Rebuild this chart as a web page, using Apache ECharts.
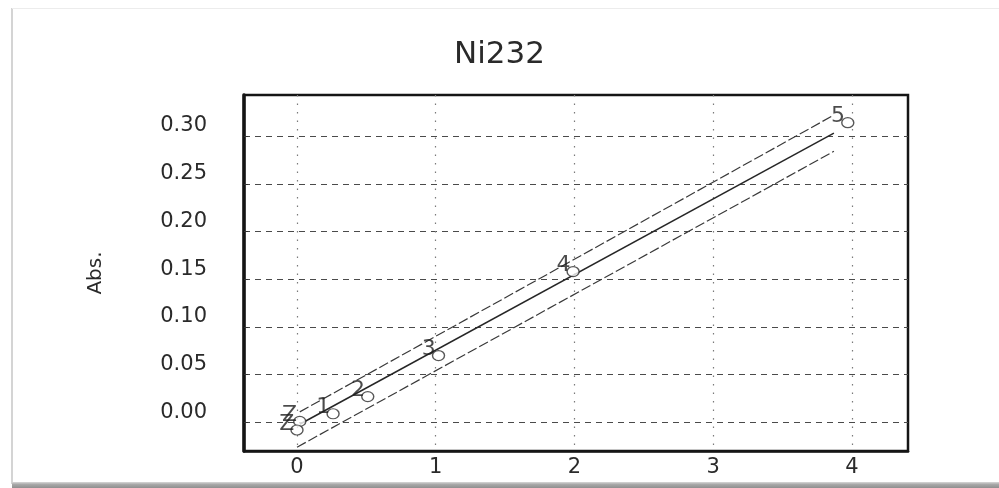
<!DOCTYPE html>
<html>
<head>
<meta charset="utf-8">
<title>Ni232</title>
<script src="https://cdn.jsdelivr.net/npm/echarts@6/dist/echarts.min.js"></script>
<style>
  html, body { margin: 0; padding: 0; background: #ffffff; }
  #chart { width: 999px; height: 488px; }
</style>
</head>
<body>
<div id="chart"></div>
<script>
// Calibration standards: concentration (x) and absorbance (y)
const standardLabels = ['Z', 'Z', '1', '2', '3', '4', '5'];
const standardConc   = [0.02, 0.00, 0.26, 0.51, 1.02, 1.99, 3.97];
const standardAbs    = [0.001, -0.008, 0.009, 0.027, 0.070, 0.158, 0.314];

// Fitted calibration line and its upper / lower limit lines (end points)
const fitConc   = [0.02, 3.87];
const fitAbs    = [-0.002, 0.303];
const upperConc = [0.02, 3.87];
const upperAbs  = [0.011, 0.322];
const lowerConc = [0.00, 3.87];
const lowerAbs  = [-0.026, 0.284];

// Tick values
const xTicks = [0, 1, 2, 3, 4];
const yTicks = [0.00, 0.05, 0.10, 0.15, 0.20, 0.25, 0.30];

const zip = (xs, ys) => xs.map((x, i) => [x, ys[i]]);

const FONT = 'DejaVu Sans';
const INK = '#2a2a2a';

const chart = echarts.init(document.getElementById('chart'), null, { renderer: 'canvas' });

chart.setOption({
  backgroundColor: '#ffffff',
  animation: false,
  title: {
    text: 'Ni232',
    left: 'center',
    top: 34,
    textStyle: { fontFamily: FONT, fontSize: 31, fontWeight: 'normal', color: INK }
  },
  // paper edge around the figure
  graphic: [
    { type: 'rect', silent: true, shape: { x: 11, y: 8, width: 2, height: 476 }, style: { fill: '#d4d4d4' } },
    { type: 'rect', silent: true, shape: { x: 12, y: 8, width: 987, height: 1 }, style: { fill: '#ececec' } },
    { type: 'rect', silent: true, shape: { x: 12, y: 482, width: 987, height: 6 },
      style: { fill: new echarts.graphic.LinearGradient(0, 0, 0, 1, [
        { offset: 0, color: '#d8d8d8' }, { offset: 0.4, color: '#a8a8a8' }, { offset: 1, color: '#8f8f8f' }
      ]) } }
  ],
  grid: {
    left: 244, top: 95, width: 664, height: 356,
    show: true, borderColor: '#151515', borderWidth: 2.5, backgroundColor: 'transparent'
  },
  xAxis: {
    type: 'value',
    min: -0.382, max: 4.404,
    axisLine: { show: true, onZero: false, lineStyle: { color: '#151515', width: 2.5 } },
    axisTick: { show: false, customValues: xTicks },
    axisLabel: {
      customValues: xTicks, margin: 6,
      fontFamily: FONT, fontSize: 21, color: INK
    },
    splitLine: { show: true, lineStyle: { color: '#7a7a7a', width: 1.2, type: [1.5, 7] } }
  },
  yAxis: {
    type: 'value',
    name: 'Abs.',
    nameLocation: 'middle',
    nameGap: 138,
    nameRotate: 90,
    nameTextStyle: { fontFamily: FONT, fontSize: 20, color: INK },
    min: -0.03, max: 0.343,
    axisLine: { show: true, onZero: false, lineStyle: { color: '#151515', width: 3.5 } },
    axisTick: { show: true, inside: true, length: 4, customValues: yTicks, lineStyle: { color: '#333', width: 1 } },
    axisLabel: {
      customValues: yTicks, margin: 37,
      verticalAlign: 'bottom', lineHeight: 20,
      fontFamily: FONT, fontSize: 21, color: INK,
      formatter: v => v.toFixed(2)
    },
    splitLine: { show: true, lineStyle: { color: '#4a4a4a', width: 1.2, type: [6, 5] } }
  },
  series: [
    {
      name: 'upper', type: 'line', data: zip(upperConc, upperAbs),
      symbol: 'none', silent: true,
      lineStyle: { color: '#3a3a3a', width: 1.2, type: [10, 3] }
    },
    {
      name: 'fit', type: 'line', data: zip(fitConc, fitAbs),
      symbol: 'none', silent: true,
      lineStyle: { color: '#262626', width: 1.5 }
    },
    {
      name: 'lower', type: 'line', data: zip(lowerConc, lowerAbs),
      symbol: 'none', silent: true,
      lineStyle: { color: '#3a3a3a', width: 1.2, type: [10, 3] }
    },
    {
      name: 'standards', type: 'scatter',
      data: standardConc.map((x, i) => ({ value: [x, standardAbs[i]], name: standardLabels[i] })),
      symbol: 'circle', symbolSize: [12, 10],
      itemStyle: { color: '#ffffff', borderColor: '#2e2e2e', borderWidth: 1.3 },
      label: {
        show: true, position: 'left', distance: 0, offset: [4, -6],
        formatter: p => p.name,
        fontFamily: FONT, fontSize: 22, color: '#1e1e1e',
        textBorderWidth: 0
      },
      z: 5
    }
  ]
});
</script>
</body>
</html>
